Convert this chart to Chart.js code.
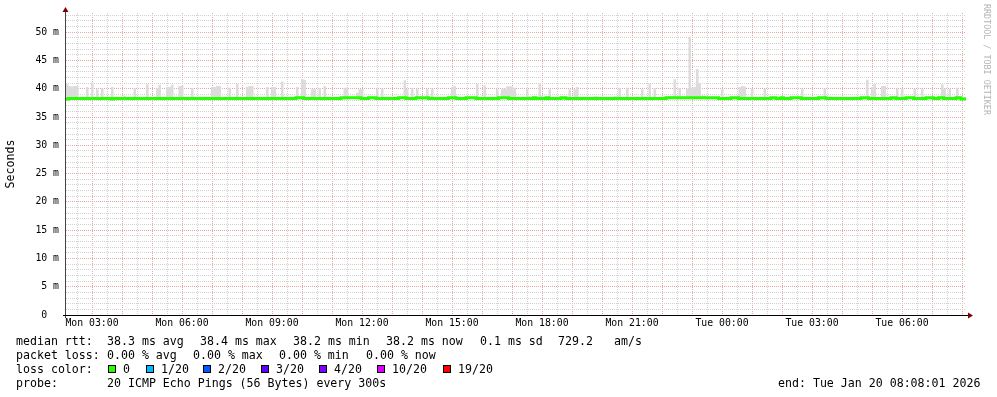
<!DOCTYPE html>
<html>
<head>
<meta charset="utf-8">
<script src="https://cdn.jsdelivr.net/npm/chart.js@4.4.1/dist/chart.umd.min.js"></script>
<style>
html, body { margin: 0; padding: 0; background: #fff; }
#wrap { position: relative; width: 997px; height: 397px; font-family: "DejaVu Sans Mono", monospace; font-size: 11.6px; color: #000; }
#wrap canvas { position: absolute; left: 0; top: 0; }
.t { position: absolute; white-space: pre; line-height: 14px; }
.box { position: absolute; width: 6px; height: 6px; border: 1px solid #000; }
#credit { position: absolute; left: 982px; top: 4px; writing-mode: vertical-rl; font-size: 8.4px; line-height: 10px; color: #b4b4b4; white-space: pre; }
</style>
</head>
<body>
<div id="wrap">
	<canvas id="myChart"></canvas>
	<div id="credit">RRDTOOL / TOBI OETIKER</div>
</div>
<script>
// 5 minute steps, window Mon 02:08 -> Tue 08:08 (minutes from start)
const stepMinutes = 5;

// upper edge of the ping smoke per step (ms), one row = one hour
const smokeTop = [
	40.9, 40.9, 40.5, 40.4, 40.5, 40.5, 38.5, 38.5, 38.5, 40.3, 38.5, 41.1,
	38.5, 39.9, 38.5, 40.1, 38.5, 38.5, 38.5, 40.3, 38.5, 38.5, 38.5, 38.5,
	38.8, 38.5, 38.5, 38.5, 40.1, 38.6, 38.5, 38.5, 38.5, 40.9, 38.5, 38.5,
	38.5, 40.1, 40.7, 38.5, 38.5, 40.3, 40.3, 40.7, 38.5, 38.5, 40.5, 40.6,
	38.5, 38.5, 38.5, 40.1, 38.5, 38.5, 38.6, 38.5, 38.5, 38.5, 38.5, 40.3,
	40.3, 40.5, 40.5, 38.5, 38.5, 38.5, 40.2, 38.5, 38.5, 40.9, 38.5, 38.5,
	38.5, 40.3, 40.5, 40.5, 38.5, 38.5, 38.5, 38.5, 38.5, 40.3, 38.5, 40.3,
	40.3, 38.5, 38.5, 41.3, 38.5, 38.5, 38.5, 38.5, 38.5, 40.3, 38.7, 41.7,
	41.6, 38.5, 38.5, 39.9, 40.0, 38.5, 40.1, 38.5, 40.5, 38.5, 38.5, 38.5,
	38.5, 38.5, 38.5, 38.5, 40.2, 40.2, 38.6, 38.6, 38.5, 39.3, 39.9, 39.9,
	38.5, 38.5, 38.5, 38.5, 38.5, 40.0, 38.5, 40.0, 38.5, 38.5, 38.5, 38.5,
	38.5, 38.5, 38.5, 38.5, 41.5, 40.0, 38.5, 40.1, 38.5, 40.0, 38.5, 38.5,
	38.5, 40.0, 38.5, 40.0, 38.5, 38.5, 38.5, 38.5, 38.5, 38.5, 38.5, 40.3,
	40.5, 38.5, 38.5, 38.5, 38.5, 38.5, 38.5, 38.5, 38.5, 40.9, 38.5, 38.5,
	40.6, 38.5, 38.5, 38.5, 38.5, 40.0, 38.5, 39.9, 40.0, 40.4, 40.5, 40.4,
	40.2, 38.5, 38.5, 38.5, 38.5, 39.9, 38.7, 38.5, 38.5, 38.5, 40.9, 38.8,
	38.5, 38.5, 39.9, 38.5, 38.5, 38.5, 38.5, 38.5, 38.5, 38.5, 39.9, 38.5,
	39.9, 40.3, 38.5, 38.5, 38.5, 38.5, 38.5, 38.5, 38.7, 38.7, 38.5, 38.5,
	38.5, 38.5, 38.5, 38.5, 38.7, 38.7, 40.1, 38.5, 38.5, 40.2, 38.5, 38.5,
	38.5, 38.5, 38.5, 39.9, 38.5, 38.5, 40.9, 38.5, 40.1, 38.5, 38.5, 38.5,
	38.5, 38.7, 38.7, 38.7, 41.7, 38.7, 40.1, 38.6, 38.6, 40.0, 49.2, 40.2,
	40.3, 43.5, 41.0, 38.8, 38.8, 38.5, 38.5, 38.5, 38.5, 38.5, 38.5, 39.9,
	38.5, 38.5, 38.5, 38.5, 38.5, 38.5, 40.3, 40.5, 40.4, 38.5, 38.5, 40.0,
	38.5, 38.5, 38.5, 38.5, 40.0, 38.5, 38.5, 38.5, 38.5, 38.5, 38.5, 38.5,
	38.5, 38.5, 38.5, 38.5, 38.5, 38.5, 38.5, 40.0, 38.5, 38.5, 38.5, 38.5,
	38.5, 38.5, 38.5, 38.5, 40.0, 38.5, 38.5, 38.5, 38.5, 38.5, 38.5, 38.5,
	38.5, 38.5, 38.5, 38.5, 38.5, 38.5, 38.5, 38.5, 38.5, 41.6, 38.5, 40.3,
	40.9, 38.5, 38.5, 40.5, 40.5, 38.5, 38.5, 38.5, 38.5, 40.0, 38.5, 40.0,
	38.5, 38.5, 38.5, 38.5, 40.0, 38.5, 38.5, 40.0, 38.5, 38.5, 38.5, 38.5,
	38.5, 38.5, 38.5, 40.8, 40.0, 38.5, 40.0, 38.5, 38.5, 40.2, 38.5, 38.5,
];

// median rtt per step (ms)
const median = [
	38.2, 38.2, 38.3, 38.3, 38.3, 38.3, 38.3, 38.3, 38.3, 38.3, 38.3, 38.3,
	38.3, 38.3, 38.3, 38.3, 38.3, 38.3, 38.3, 38.2, 38.3, 38.3, 38.3, 38.3,
	38.3, 38.3, 38.3, 38.3, 38.3, 38.3, 38.3, 38.3, 38.3, 38.3, 38.3, 38.3,
	38.3, 38.3, 38.3, 38.3, 38.3, 38.3, 38.3, 38.3, 38.3, 38.3, 38.3, 38.3,
	38.3, 38.3, 38.3, 38.3, 38.3, 38.3, 38.3, 38.3, 38.3, 38.3, 38.3, 38.3,
	38.3, 38.3, 38.3, 38.3, 38.3, 38.3, 38.3, 38.3, 38.3, 38.3, 38.3, 38.3,
	38.3, 38.3, 38.3, 38.3, 38.3, 38.3, 38.3, 38.3, 38.3, 38.3, 38.3, 38.3,
	38.3, 38.3, 38.3, 38.3, 38.3, 38.3, 38.3, 38.3, 38.3, 38.4, 38.4, 38.4,
	38.3, 38.3, 38.3, 38.3, 38.3, 38.3, 38.3, 38.3, 38.3, 38.3, 38.3, 38.3,
	38.3, 38.3, 38.3, 38.4, 38.4, 38.4, 38.4, 38.4, 38.4, 38.4, 38.4, 38.3,
	38.3, 38.3, 38.4, 38.4, 38.4, 38.3, 38.3, 38.3, 38.3, 38.3, 38.3, 38.3,
	38.3, 38.3, 38.4, 38.4, 38.4, 38.3, 38.3, 38.3, 38.3, 38.4, 38.4, 38.4,
	38.4, 38.4, 38.3, 38.3, 38.3, 38.3, 38.3, 38.3, 38.3, 38.3, 38.4, 38.4,
	38.4, 38.3, 38.3, 38.3, 38.3, 38.4, 38.4, 38.4, 38.4, 38.3, 38.3, 38.3,
	38.3, 38.3, 38.3, 38.3, 38.3, 38.3, 38.4, 38.4, 38.4, 38.4, 38.3, 38.3,
	38.3, 38.3, 38.3, 38.3, 38.3, 38.3, 38.3, 38.3, 38.4, 38.3, 38.3, 38.3,
	38.3, 38.4, 38.3, 38.3, 38.3, 38.3, 38.3, 38.4, 38.4, 38.3, 38.3, 38.3,
	38.3, 38.3, 38.3, 38.3, 38.3, 38.3, 38.3, 38.3, 38.3, 38.3, 38.3, 38.3,
	38.3, 38.3, 38.3, 38.3, 38.3, 38.3, 38.3, 38.3, 38.3, 38.3, 38.3, 38.3,
	38.3, 38.3, 38.3, 38.3, 38.3, 38.3, 38.3, 38.3, 38.3, 38.3, 38.3, 38.3,
	38.3, 38.4, 38.4, 38.4, 38.4, 38.4, 38.4, 38.4, 38.4, 38.4, 38.4, 38.4,
	38.4, 38.4, 38.4, 38.4, 38.4, 38.4, 38.4, 38.4, 38.4, 38.4, 38.3, 38.3,
	38.3, 38.3, 38.3, 38.4, 38.4, 38.4, 38.3, 38.3, 38.3, 38.3, 38.3, 38.3,
	38.3, 38.3, 38.3, 38.3, 38.3, 38.3, 38.3, 38.4, 38.4, 38.3, 38.3, 38.4,
	38.3, 38.3, 38.3, 38.4, 38.4, 38.4, 38.4, 38.3, 38.3, 38.3, 38.3, 38.3,
	38.3, 38.3, 38.4, 38.4, 38.4, 38.3, 38.3, 38.3, 38.3, 38.3, 38.3, 38.3,
	38.3, 38.3, 38.3, 38.3, 38.3, 38.3, 38.3, 38.4, 38.4, 38.4, 38.3, 38.3,
	38.3, 38.3, 38.3, 38.3, 38.3, 38.3, 38.3, 38.4, 38.4, 38.3, 38.3, 38.3,
	38.3, 38.4, 38.4, 38.4, 38.3, 38.3, 38.3, 38.3, 38.3, 38.4, 38.4, 38.4,
	38.3, 38.3, 38.4, 38.4, 38.3, 38.3, 38.3, 38.3, 38.3, 38.4, 38.4, 38.2,
];

// x labels every 3 hours, first one (Mon 03:00) is 52 min after window start
const xTickLabels = ["Mon 03:00", "Mon 06:00", "Mon 09:00", "Mon 12:00", "Mon 15:00", "Mon 18:00", "Mon 21:00", "Tue 00:00", "Tue 03:00", "Tue 06:00"];
const firstHour = 52;
const windowMinutes = 1800;
const yTickLabels = ["0  ", "5 m", "10 m", "15 m", "20 m", "25 m", "30 m", "35 m", "40 m", "45 m", "50 m"];

// legend texts
const rttStats = ["38.3 ms avg", "38.4 ms max", "38.2 ms min", "38.2 ms now", "0.1 ms sd", "729.2", "am/s"];
const lossStats = ["0.00 % avg", "0.00 % max", "0.00 % min", "0.00 % now"];
const lossLabels = ["0", "1/20", "2/20", "3/20", "4/20", "10/20", "19/20"];
const lossColors = ["#26ff00", "#00b8ff", "#0059ff", "#5e00ff", "#7e00ff", "#dd00ff", "#ff0000"];
const probeText = "20 ICMP Echo Pings (56 Bytes) every 300s";
const endText = "end: Tue Jan 20 08:08:01 2026";

const majorGrid = "#e8a6a6";
const minorGrid = "#d2d2d2";
const mono = '"DejaVu Sans Mono", monospace';

function toPoints(arr) {
	const pts = arr.map((v, i) => ({ x: i * stepMinutes, y: v }));
	pts.push({ x: arr.length * stepMinutes, y: arr[arr.length - 1] });
	return pts;
}

// legend lines under the graph
const wrap = document.getElementById("wrap");
function txt(x, yc, s) {
	const d = document.createElement("div");
	d.className = "t";
	d.style.left = x + "px";
	d.style.top = yc - 7 + "px";
	d.textContent = s;
	wrap.appendChild(d);
}
txt(16, 341, "median rtt:");
[107, 200, 293, 386, 480, 558, 614].forEach((x, i) => txt(x, 341, rttStats[i]));
txt(16, 355, "packet loss:");
[107, 193, 279, 366].forEach((x, i) => txt(x, 355, lossStats[i]));
txt(16, 369, "loss color:");
[108, 146, 203, 261, 319, 377, 443].forEach((x, i) => {
	const b = document.createElement("div");
	b.className = "box";
	b.style.left = x + "px";
	b.style.top = "365px";
	b.style.background = lossColors[i];
	wrap.appendChild(b);
	txt(x + 15, 369, lossLabels[i]);
});
txt(16, 383, "probe:");
txt(107, 383, probeText);
txt(778, 383, endText);

const axisArrows = {
	id: "axisArrows",
	afterDatasetsDraw(chart) {
		const { ctx, chartArea: a } = chart;
		ctx.save();
		ctx.lineWidth = 1;
		ctx.strokeStyle = "#444";
		ctx.beginPath();
		ctx.moveTo(a.left - 0.5, a.bottom + 3);
		ctx.lineTo(a.left - 0.5, a.top - 4);
		ctx.stroke();
		ctx.strokeStyle = "#000";
		ctx.beginPath();
		ctx.moveTo(a.left - 3, a.bottom + 0.5);
		ctx.lineTo(a.right + 4, a.bottom + 0.5);
		ctx.stroke();
		ctx.fillStyle = "#7f0000";
		ctx.beginPath();
		ctx.moveTo(a.left - 0.5, a.top - 6);
		ctx.lineTo(a.left - 3.5, a.top - 1);
		ctx.lineTo(a.left + 2.5, a.top - 1);
		ctx.closePath();
		ctx.fill();
		ctx.beginPath();
		ctx.moveTo(a.right + 7, a.bottom + 0.5);
		ctx.lineTo(a.right + 2, a.bottom - 2.5);
		ctx.lineTo(a.right + 2, a.bottom + 3.5);
		ctx.closePath();
		ctx.fill();
		ctx.restore();
	},
};

const config = {
	type: "line",
	data: {
		datasets: [
			{
				label: "median rtt",
				data: toPoints(median),
				borderColor: "#26ff00",
				borderWidth: 3,
				stepped: "after",
				pointRadius: 0,
				fill: false,
			},
			{
				label: "smoke",
				data: toPoints(smokeTop),
				borderColor: "rgba(0,0,0,0)",
				borderWidth: 0,
				backgroundColor: "#dcdcdc",
				stepped: "after",
				pointRadius: 0,
				fill: "-1",
			},
		],
	},
	options: {
		responsive: true,
		maintainAspectRatio: false,
		animation: false,
		layout: { padding: { left: 0, right: 31, top: 13, bottom: 62 } },
		plugins: { legend: { display: false }, tooltip: { enabled: false } },
		scales: {
			x: {
				type: "linear",
				min: 0,
				max: windowMinutes,
				afterBuildTicks: (s) => {
					const t = [];
					for (let v = firstHour - 30; v <= windowMinutes; v += 30) t.push({ value: v });
					s.ticks = t;
				},
				afterFit: (s) => {
					s.height = 20;
				},
				grid: {
					color: (c) => ((c.tick.value - firstHour) % 60 === 0 ? majorGrid : minorGrid),
					drawTicks: false,
				},
				border: { display: false, dash: [1, 1] },
				ticks: {
					autoSkip: false,
					maxRotation: 0,
					padding: 3,
					color: "#000",
					font: { family: mono, size: 9.8 },
					callback: (v) => ((v - firstHour) % 180 === 0 ? xTickLabels[(v - firstHour) / 180] : ""),
				},
			},
			y: {
				min: 0,
				max: 53.4,
				afterBuildTicks: (s) => {
					const t = [];
					for (let v = 0; v <= 53; v++) t.push({ value: v });
					s.ticks = t;
				},
				afterFit: (s) => {
					s.width = 66;
				},
				grid: {
					color: (c) => (c.tick.value % 5 === 0 ? majorGrid : minorGrid),
					drawTicks: false,
				},
				border: { display: false, dash: [1, 1] },
				title: {
					display: true,
					text: "Seconds",
					color: "#000",
					font: { family: mono, size: 11.6 },
					padding: { top: 4, bottom: 0 },
				},
				ticks: {
					autoSkip: false,
					padding: 7,
					color: "#000",
					font: { family: mono, size: 9.8 },
					callback: (v) => (v % 5 === 0 ? yTickLabels[v / 5] : ""),
				},
			},
		},
	},
	plugins: [axisArrows],
};

const myChart = new Chart(document.getElementById("myChart"), config);
</script>
</body>
</html>
